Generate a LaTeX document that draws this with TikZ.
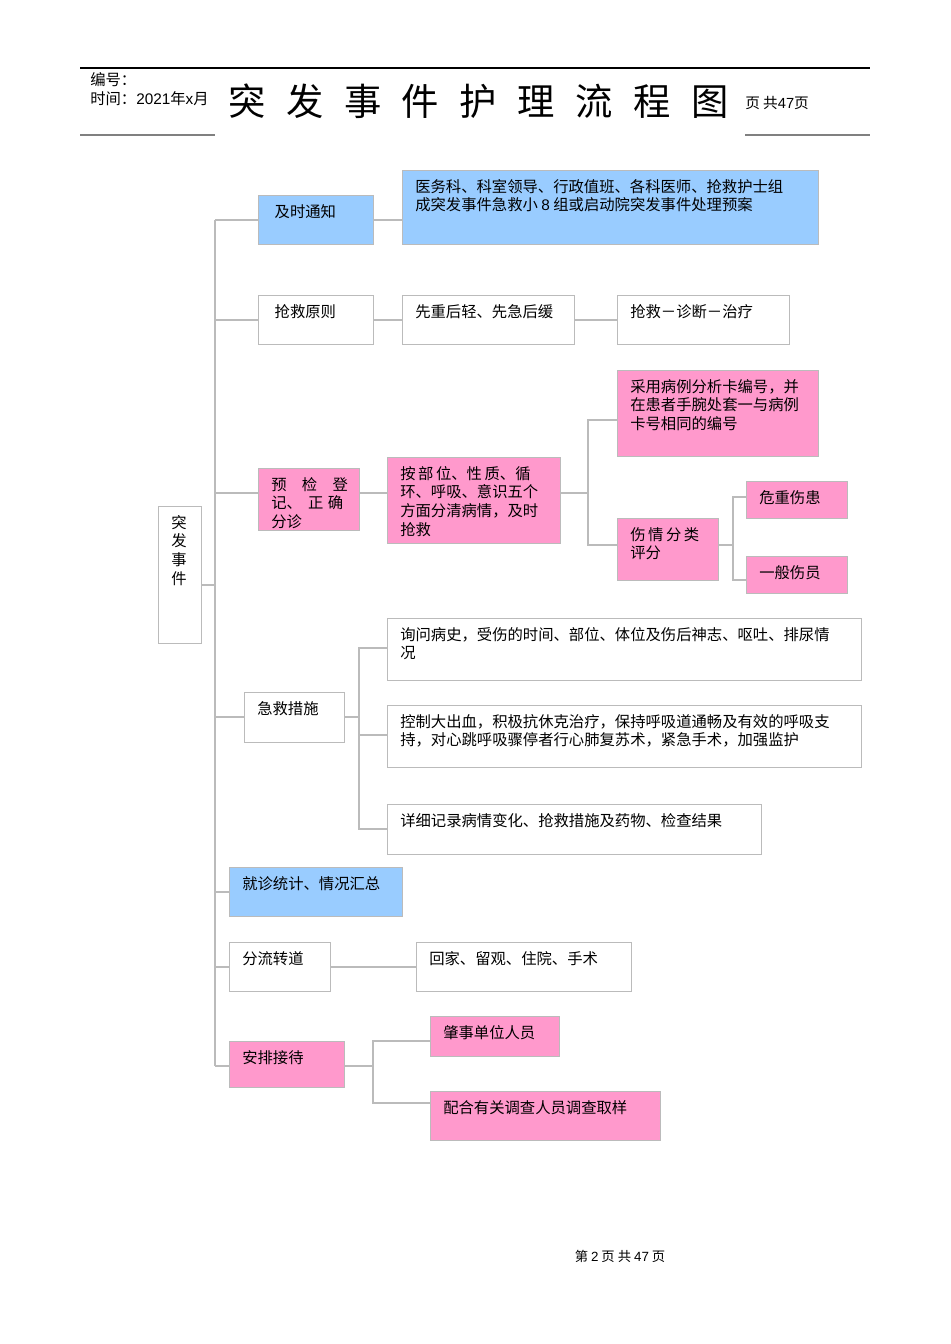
\documentclass[tikz,border=0pt]{standalone}
\usepackage{fontspec}
\setmainfont{Noto Sans CJK SC}
\newfontfamily\latinf{Liberation Sans}
\definecolor{bl}{HTML}{99CCFF}
\definecolor{pk}{HTML}{FF99CC}
\definecolor{ln}{HTML}{BBBBBB}
\newcommand{\bx}[7]{%
  \node[draw=ln,fill=#6,minimum width={(#4-#2)*0.75pt},minimum height={(#5-#3)*0.75pt},inner sep=0,anchor=north west] (#1) at (#2,#3) {};
  \node[anchor=north west,inner sep=0,align=left,font=\fontsize{11.5}{14}\selectfont] (#1t) at (#2+13,#3+9) {#7};}
\begin{document}
\begin{tikzpicture}[x=0.75pt,y=-0.75pt,cn/.style={draw=ln,line width=0.8pt}]
\useasboundingbox (0,0) rectangle (950,1344);
% header
\draw[line width=0.8pt] (80,68) -- (870,68);
\draw[gray,line width=1.2pt] (80,135) -- (215,135) (745,135) -- (870,135);
\node[anchor=west,inner sep=0,font=\fontsize{11.5}{13}\selectfont] (hn) at (90,80) {编号：};
\begin{scope}
\clip (80,88) rectangle (218,112);
\node[anchor=west,inner sep=0,font=\fontsize{11.5}{13}\selectfont] (ht) at (90,99) {时间：{\latinf 2021}年{\latinf x}月};
\end{scope}
\node[anchor=west,inner sep=0,font=\fontsize{28}{30}\selectfont] (title) at (228,101) {突\hspace{0.55em}发\hspace{0.55em}事\hspace{0.55em}件\hspace{0.55em}护\hspace{0.55em}理\hspace{0.55em}流\hspace{0.55em}程\hspace{0.55em}图};
\node[anchor=west,inner sep=0,font=\fontsize{11}{13}\selectfont] (hp) at (745,103) {页 共{\latinf 47}页};
\node[inner sep=0,font=\fontsize{10}{12}\selectfont] (foot) at (620,1256) {第 {\latinf 2} 页 共 {\latinf 47} 页};
% boxes
\bx{root}{158}{506}{201}{643}{white}{突\\发\\事\\件}
\bx{a}{258}{195}{373}{244}{bl}{\ 及时通知}
\bx{a1}{402}{170}{818}{244}{bl}{医务科、科室领导、行政值班、各科医师、抢救护士组\\成突发事件急救小 {\latinf 8} 组或启动院突发事件处理预案}
\bx{b}{258}{295}{373}{344}{white}{\ 抢救原则}
\bx{b1}{402}{295}{574}{344}{white}{先重后轻、先急后缓}
\bx{b2}{617}{295}{789}{344}{white}{抢救－诊断－治疗}
\bx{c}{258}{468}{359}{530}{pk}{预\hspace{1em}检\hspace{1em}登\\记、\hspace{0.4em}正\hspace{0.3em}确\\分诊}
\bx{c1}{387}{457}{560}{543}{pk}{按\,部\,位、性\,质、循\\环、呼吸、意识五个\\方面分清病情，及时\\抢救}
\bx{c2}{617}{370}{818}{456}{pk}{采用病例分析卡编号，并\\在患者手腕处套一与病例\\卡号相同的编号}
\bx{c3}{617}{518}{718}{580}{pk}{伤\,情\,分\,类\\评分}
\bx{c4}{746}{481}{847}{518}{pk}{危重伤患}
\bx{c5}{746}{556}{847}{593}{pk}{一般伤员}
\bx{d}{244}{692}{344}{742}{white}{急救措施}
\bx{d1}{387}{618}{861}{680}{white}{询问病史，受伤的时间、部位、体位及伤后神志、呕吐、排尿情\\况}
\bx{d2}{387}{705}{861}{767}{white}{控制大出血，积极抗休克治疗，保持呼吸道通畅及有效的呼吸支\\持，对心跳呼吸骤停者行心肺复苏术，紧急手术，加强监护}
\bx{d3}{387}{804}{761}{854}{white}{详细记录病情变化、抢救措施及药物、检查结果}
\bx{e}{229}{867}{402}{916}{bl}{就诊统计、情况汇总}
\bx{f}{229}{942}{330}{991}{white}{分流转道}
\bx{f1}{416}{942}{631}{991}{white}{回家、留观、住院、手术}
\bx{g}{229}{1041}{344}{1087}{pk}{安排接待}
\bx{g1}{430}{1016}{559}{1056}{pk}{肇事单位人员}
\bx{g2}{430}{1091}{660}{1140}{pk}{配合有关调查人员调查取样}
% connectors
\coordinate (tt) at (215,220); \coordinate (tb) at (215,1066);
\draw[cn] (tt) -- (tb);
\draw[cn] (root.east |- 0,585) -- (215,585);
\draw[cn] (tt) -- (a.west |- tt);
\draw[cn] (a.east |- 0,220) -- (a1.west |- 0,220);
\draw[cn] (215,320) -- (b.west |- 0,320);
\draw[cn] (b.east |- 0,320) -- (b1.west |- 0,320);
\draw[cn] (b1.east |- 0,320) -- (b2.west |- 0,320);
\draw[cn] (215,493) -- (c.west |- 0,493);
\draw[cn] (c.east |- 0,493) -- (c1.west |- 0,493);
\draw[cn] (c1.east |- 0,493) -- (588,493);
\draw[cn] (c2.west |- 0,420) -- (588,420) -- (588,545) -- (c3.west |- 0,545);
\draw[cn] (c3.east |- 0,545) -- (733,545);
\draw[cn] (c4.west |- 0,497) -- (733,497) -- (733,580) -- (c5.west |- 0,580);
\draw[cn] (215,717) -- (d.west |- 0,717);
\draw[cn] (d.east |- 0,717) -- (359,717);
\draw[cn] (d1.west |- 0,648) -- (359,648) -- (359,829) -- (d3.west |- 0,829);
\draw[cn] (359,735) -- (d2.west |- 0,735);
\draw[cn] (215,892) -- (e.west |- 0,892);
\draw[cn] (215,967) -- (f.west |- 0,967);
\draw[cn] (f.east |- 0,967) -- (f1.west |- 0,967);
\draw[cn] (tb) -- (g.west |- tb);
\draw[cn] (g.east |- 0,1066) -- (373,1066);
\draw[cn] (g1.west |- 0,1041) -- (373,1041) -- (373,1103) -- (g2.west |- 0,1103);
\end{tikzpicture}
\end{document}
